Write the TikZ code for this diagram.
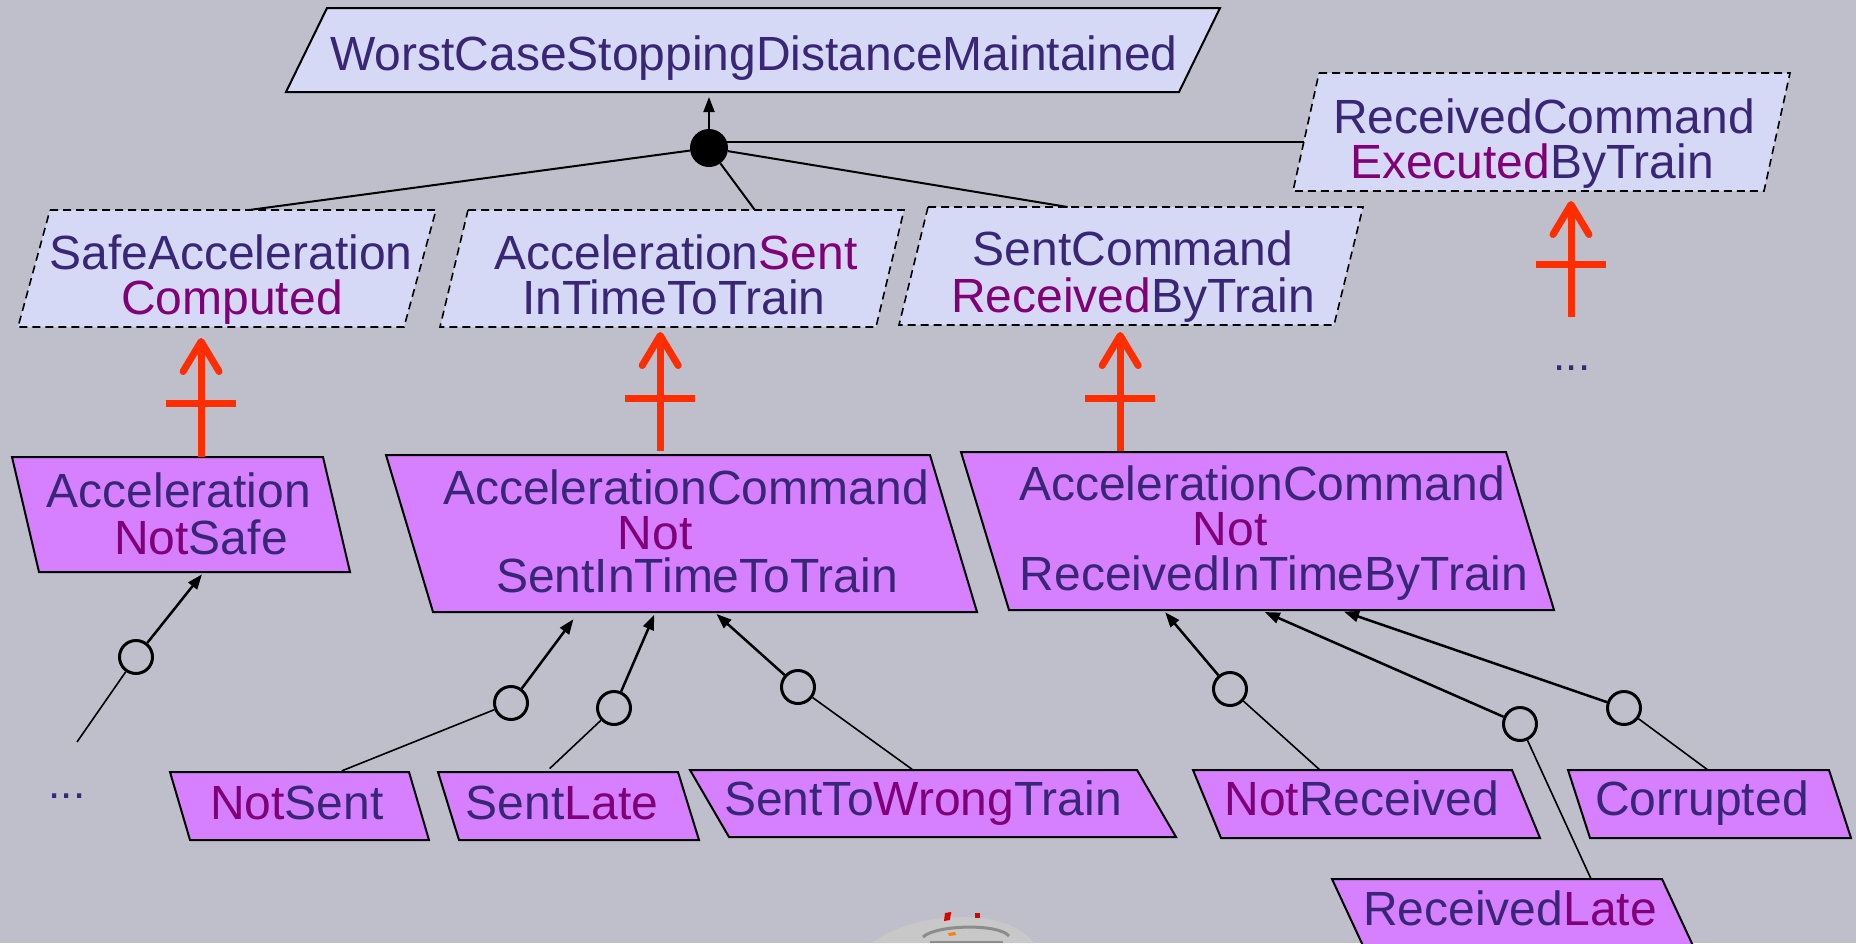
\documentclass[tikz,border=0pt]{standalone}
\usepackage{fontspec}
\setmainfont{Liberation Sans}
\usetikzlibrary{arrows.meta,calc}

\definecolor{bg}{RGB}{191,191,204}
\definecolor{goalfill}{RGB}{214,217,245}
\definecolor{obsfill}{RGB}{214,128,255}
\definecolor{ink}{RGB}{58,38,118}
\definecolor{accent}{RGB}{128,0,120}
\definecolor{obsred}{RGB}{255,45,0}
\definecolor{clipgray}{RGB}{200,200,200}
\definecolor{clipdark}{RGB}{140,140,140}

% highlighted word inside a label
\newcommand{\hl}[1]{\textcolor{accent}{#1}}

% parallelogram: style, name, y top, y bottom, x top-left, x top-right, shift of the bottom edge
\newcommand{\drawpara}[7]{%
  \coordinate (#2-tl) at (#5,#3);
  \coordinate (#2-tr) at (#6,#3);
  \coordinate (#2-br) at ({#6+#7},#4);
  \coordinate (#2-bl) at ({#5+#7},#4);
  \path[#1] (#2-tl) -- (#2-tr) -- (#2-br) -- (#2-bl) -- cycle;
}

\begin{document}
\begin{tikzpicture}[x=1pt,y=-1pt,
  goal/.style={draw=black, line width=1.6pt, dash pattern=on 8pt off 5pt, fill=goalfill},
  topgoal/.style={draw=black, line width=2pt, fill=goalfill},
  obstacle/.style={draw=black, line width=2pt, fill=obsfill},
  lbl/.style={inner sep=0pt, anchor=base, text=ink, font=\fontsize{48}{48}\selectfont},
  dots/.style={inner sep=0pt, anchor=base, text=ink, font=\fontsize{44}{44}\selectfont},
  andnode/.style={circle, fill=black, inner sep=0pt, minimum size=38pt},
  ornode/.style={circle, draw=black, line width=3pt, inner sep=0pt, minimum size=33pt},
  refine/.style={line width=2pt},
  link/.style={line width=2.5pt, -{Triangle[length=15pt,width=11pt]}},
  sublink/.style={line width=1.6pt},
  obstructs/.style={draw=obsred, line width=7pt, -{Straight Barb[length=30pt,width=36pt,round]}},
  crossbar/.style={draw=obsred, line width=7pt},
]
\useasboundingbox (0,0) rectangle (1856,943);
\clip (0,0) rectangle (1856,943);
\fill[bg] (0,0) rectangle (1856,943);

% ---- goals ----
\drawpara{topgoal}{top}{8}{92}{327}{1220}{-41}
\drawpara{goal}{g1}{210}{327}{50}{436}{-32}
\drawpara{goal}{g2}{210}{327}{468}{904}{-28}
\drawpara{goal}{g3}{207}{325}{928}{1363}{-29}
\drawpara{goal}{g4}{73}{191}{1319}{1790}{-26}

% ---- obstacles ----
\drawpara{obstacle}{oA}{457}{572}{12}{323}{27}
\drawpara{obstacle}{oB}{455}{612}{386}{930}{47}
\drawpara{obstacle}{oC}{452}{610}{961}{1506}{48}
\drawpara{obstacle}{sNS}{772}{840}{170}{409}{20}
\drawpara{obstacle}{sSL}{772}{840}{438}{678}{21}
\drawpara{obstacle}{sSW}{770}{837}{690}{1137}{39}
\drawpara{obstacle}{sNR}{770}{838}{1193}{1512}{28}
\drawpara{obstacle}{sCO}{770}{838}{1568}{1829}{22}
\drawpara{obstacle}{sRL}{879}{950}{1332}{1662}{33}

% ---- labels ----
\node[lbl] (topT) at (754,70) {WorstCaseStoppingDistanceMaintained};
\node[lbl] (g1a) at (231,269) {SafeAcceleration};
\node[lbl] (g1b) at (232,314) {\hl{Computed}};
\node[lbl] (g2a) at (676,269) {Acceleration\hl{Sent}};
\node[lbl] (g2b) at (674,314) {InTimeToTrain};
\node[lbl] (g3a) at (1133,265) {SentCommand};
\node[lbl] (g3b) at (1133,312) {\hl{Received}ByTrain};
\node[lbl] (g4a) at (1544,133) {ReceivedCommand};
\node[lbl] (g4b) at (1532,178) {\hl{Executed}ByTrain};
\node[lbl] (oAa) at (179,507) {Acceleration};
\node[lbl] (oAb) at (201,554) {\hl{Not}Safe};
\node[lbl] (oBa) at (686,504) {AccelerationCommand};
\node[lbl] (oBb) at (655,549) {\hl{Not}};
\node[lbl] (oBc) at (697,592) {SentInTimeToTrain};
\node[lbl] (oCa) at (1262,500) {AccelerationCommand};
\node[lbl] (oCb) at (1230,545) {\hl{Not}};
\node[lbl] (oCc) at (1274,590) {ReceivedInTimeByTrain};
\node[lbl] (sNSt) at (297,819) {\hl{Not}Sent};
\node[lbl] (sSLt) at (562,819) {Sent\hl{Late}};
\node[lbl] (sSWt) at (923,815) {SentTo\hl{Wrong}Train};
\node[lbl] (sNRt) at (1362,815) {\hl{Not}Received};
\node[lbl] (sCOt) at (1702,815) {Corrupted};
\node[lbl] (sRLt) at (1510,925) {Received\hl{Late}};
\node[dots] (moreA) at (67,798) {...};
\node[dots] (moreD) at (1572,370) {...};

% ---- AND-refinement of the top goal ----
\node[andnode] (and) at (709,148) {};
\coordinate (g1in) at ($(g1-tl)!0.516!(g1-tr)$);
\coordinate (g2in) at ($(g2-tl)!0.658!(g2-tr)$);
\coordinate (g3in) at ($(g3-tl)!0.321!(g3-tr)$);
\coordinate (g4in) at ($(g4-tl)!0.585!(g4-bl)$);
\draw[link, line width=2pt, shorten >=5pt] (and) -- (and |- top-bl);
\draw[refine] (and) -- (g1in);
\draw[refine] (and) -- (g2in);
\draw[refine] (and) -- (g3in);
\draw[refine] (g4in) -- (g4in -| and);

% ---- obstructions ----
\coordinate (oAout) at ($(oA-tl)!0.608!(oA-tr)$);
\coordinate (oBout) at ($(oB-tl)!0.504!(oB-tr)$);
\coordinate (oCout) at ($(oC-tl)!0.292!(oC-tr)$);
\coordinate (moreDout) at ($(moreD.base)+(-1,-53)$);
\draw[obstructs, shorten >=11pt] (oAout) -- (oAout |- g1-bl);
\draw[obstructs, shorten <=4pt, shorten >=5pt] (oBout) -- (oBout |- g2-bl);
\draw[obstructs, shorten <=1pt, shorten >=7pt] (oCout) -- (oCout |- g3-bl);
\draw[obstructs, shorten >=10pt] (moreDout) -- (moreDout |- g4-bl);
\draw[crossbar] ($(oAout)+(-35,-54)$) -- ($(oAout)+(35,-54)$);
\draw[crossbar] ($(oBout)+(-35,-57)$) -- ($(oBout)+(35,-57)$);
\draw[crossbar] ($(oCout)+(-35,-54)$) -- ($(oCout)+(35,-54)$);
\draw[crossbar] ($(moreDout)+(-35,-53)$) -- ($(moreDout)+(35,-53)$);

% ---- OR-refinements of the obstacles ----
\node[ornode] (cA) at (136,657) {};
\node[ornode] (cB1) at (511,703) {};
\node[ornode] (cB2) at (614,708) {};
\node[ornode] (cB3) at (798,687) {};
\node[ornode] (cC1) at (1230,689) {};
\node[ornode] (cC2) at (1520,724) {};
\node[ornode] (cC3) at (1624,708) {};

\coordinate (oAin) at ($(oA-bl)!0.53!(oA-br)$);
\coordinate (oBin1) at ($(oB-bl)!0.268!(oB-br)$);
\coordinate (oBin2) at ($(oB-bl)!0.409!(oB-br)$);
\coordinate (oBin3) at ($(oB-bl)!0.517!(oB-br)$);
\coordinate (oCin1) at ($(oC-bl)!0.283!(oC-br)$);
\coordinate (oCin2) at ($(oC-bl)!0.461!(oC-br)$);
\coordinate (oCin3) at ($(oC-bl)!0.606!(oC-br)$);

\draw[link, shorten >=3pt] (cA) -- (oAin);
\draw[link, shorten >=9pt] (cB1) -- (oBin1);
\draw[link, shorten >=3pt] (cB2) -- (oBin2);
\draw[link, shorten >=3pt] (cB3) -- (oBin3);
\draw[link, shorten >=3pt] (cC1) -- (oCin1);
\draw[link, shorten >=5pt] (cC2) -- (oCin2);
\draw[link, shorten >=5pt] (cC3) -- (oCin3);

\coordinate (moreAout) at ($(moreA.base)+(10,-56)$);
\coordinate (sNSout) at ($(sNS-tl)!0.707!(sNS-tr)$);
\coordinate (sSLout) at ($(sSL-tl)!0.45!(sSL-tr)$);
\coordinate (sSWout) at ($(sSW-tl)!0.499!(sSW-tr)$);
\coordinate (sNRout) at ($(sNR-tl)!0.398!(sNR-tr)$);
\coordinate (sRLout) at ($(sRL-tl)!0.785!(sRL-tr)$);
\coordinate (sCOout) at ($(sCO-tl)!0.536!(sCO-tr)$);

\draw[sublink] (cA) -- (moreAout);
\draw[sublink, shorten >=3pt] (cB1) -- (sNSout);
\draw[sublink, shorten >=5pt] (cB2) -- (sSLout);
\draw[sublink] (cB3) -- (sSWout);
\draw[sublink] (cC1) -- (sNRout);
\draw[sublink] (cC2) -- (sRLout);
\draw[sublink] (cC3) -- (sCOout);

% ---- train roof peeking in at the bottom edge ----
\fill[clipgray] (872,943) .. controls (895,926) and (925,918) .. (962,917)
  .. controls (1000,917) and (1022,928) .. (1034,943) -- cycle;
\draw[clipdark, line width=3pt] (923,937) .. controls (935,925) and (998,923) .. (1009,936);
\fill[clipdark] (930,941) rectangle (1003,943);
\fill[red!85!black] (945,913) -- (951,912) -- (950,920) -- (944,921) -- cycle;
\fill[red!85!black] (975,913) -- (980,913) -- (980,918) -- (975,918) -- cycle;
\fill[orange] (948,933) -- (955,932) -- (956,935) -- (949,936) -- cycle;
\end{tikzpicture}
\end{document}
